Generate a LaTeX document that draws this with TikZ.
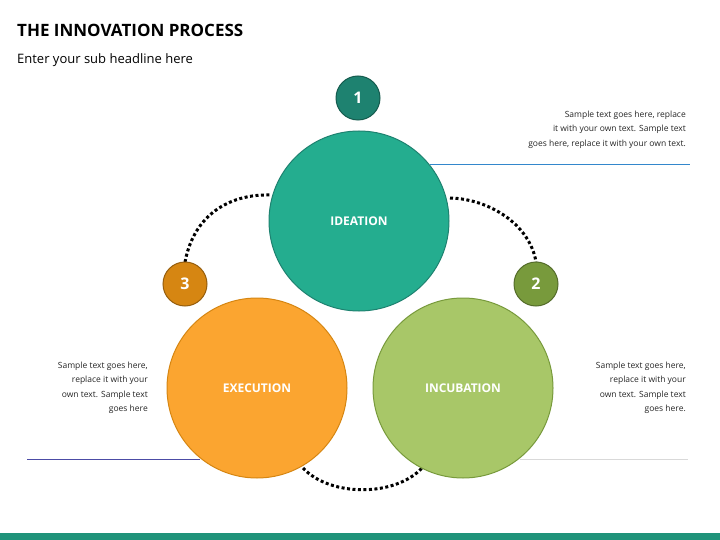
\documentclass[tikz,border=0pt]{standalone}
\usepackage{fontspec}
\setmainfont{Open Sans}
\begin{document}
\begin{tikzpicture}[x=1pt,y=-1pt,
  big/.style={circle,minimum size=180pt,inner sep=0pt,line width=1pt,text=white,font=\bfseries\fontsize{12}{14}\selectfont},
  badge/.style={circle,minimum size=44pt,inner sep=0pt,line width=1pt,text=white,font=\bfseries\fontsize{16}{18}\selectfont},
  dots/.style={line width=3pt,dash pattern=on 3pt off 2.5pt},
  body/.style={align=right,font=\fontsize{8.5}{14.2}\selectfont,text=black!85,inner sep=0pt},
  rule/.style={line width=1pt}]
\definecolor{teal}{HTML}{24AD8F}
\definecolor{dteal}{HTML}{1E8270}
\definecolor{orng}{HTML}{FBA530}
\definecolor{dorng}{HTML}{D68612}
\definecolor{grn}{HTML}{A8C768}
\definecolor{dgrn}{HTML}{789A3C}
\useasboundingbox (0,0) rectangle (720,540);
\fill[white] (0,0) rectangle (720,540);
\fill[teal!85!black] (0,533) rectangle (720,540);
\node[anchor=west,font=\bfseries\fontsize{17}{20}\selectfont,inner sep=0pt] (title) at (17,30) {THE INNOVATION PROCESS};
\node[anchor=west,font=\fontsize{13}{16}\selectfont,inner sep=0pt] (sub) at (17,60) {Enter your sub headline here};
% lines
\coordinate (l1a) at (430,165); \coordinate (l1b) at (690,165);
\draw[rule,color=blue!45!cyan!60!gray] (l1a) -- (l1b);
\coordinate (l2a) at (27,459); \coordinate (l2b) at (200,459);
\draw[rule,color=blue!50!black!70] (l2a) -- (l2b);
\coordinate (l3a) at (520,459); \coordinate (l3b) at (688,459);
\draw[rule,color=black!15] (l3a) -- (l3b);
% dotted arcs
\coordinate (d1a) at (185,262); \coordinate (d1b) at (270,195);
\coordinate (d2a) at (450,198); \coordinate (d2b) at (536,262);
\coordinate (d3a) at (303,468); \coordinate (d3b) at (422,468);
\draw[dots] (d1a) .. controls (195,210) and (235,194) .. (d1b);
\draw[dots] (d2a) .. controls (490,199) and (530,225) .. (d2b);
\draw[dots] (d3a) .. controls (330,497) and (395,497) .. (d3b);
% circles
\node[big,fill=orng,draw=dorng] (exe) at (257,388) {EXECUTION};
\node[big,fill=grn,draw=dgrn] (inc) at (463,388) {INCUBATION};
\node[big,fill=teal,draw=dteal] (ide) at (359,221) {IDEATION};
\node[badge,fill=dteal,draw=dteal!70!black] (b1) at (358,98) {1};
\node[badge,fill=dgrn,draw=dgrn!70!black] (b2) at (536,284) {2};
\node[badge,fill=dorng,draw=dorng!70!black] (b3) at (185,284) {3};
% texts
\node[body,anchor=north east] (t1) at (686,111) {Sample text goes here, replace\\it with your own text. Sample text\\goes here, replace it with your own text.};
\node[body,anchor=north east] (t2) at (148,362) {Sample text goes here,\\replace it with your\\own text. Sample text\\goes here};
\node[body,anchor=north east] (t3) at (686,362) {Sample text goes here,\\replace it with your\\own text. Sample text\\goes here.};
\end{tikzpicture}
\end{document}
